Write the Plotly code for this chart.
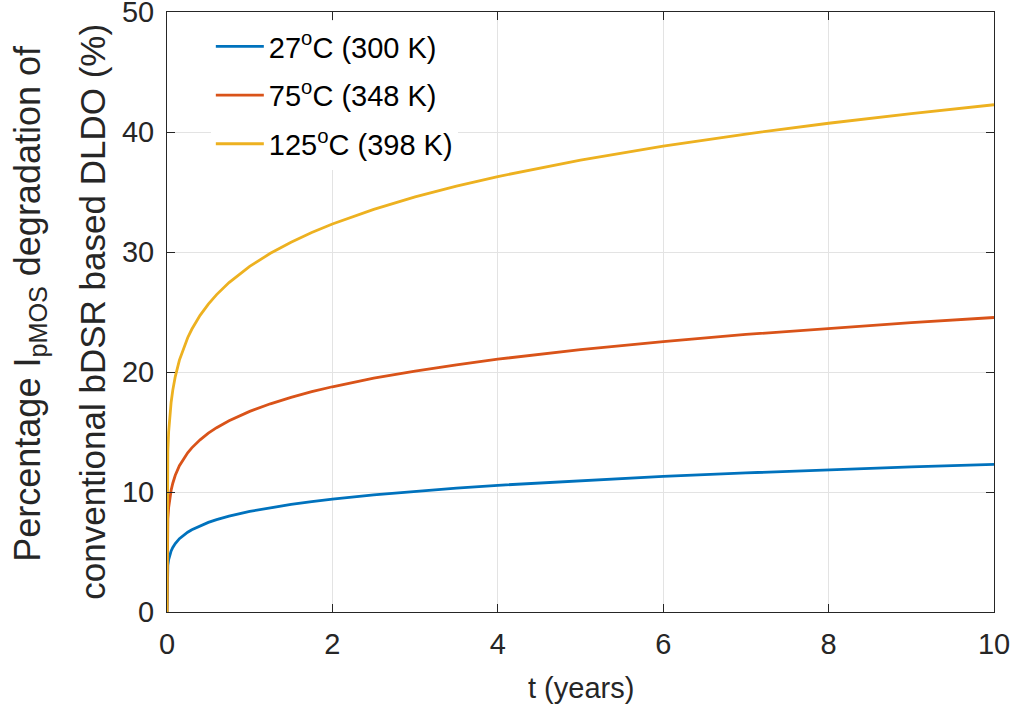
import plotly.graph_objects as go

# Time in years
t_years = [0, 0.001, 0.002, 0.005, 0.01, 0.02, 0.03, 0.05, 0.07, 0.1, 0.15, 0.2, 0.25, 0.3,
           0.4, 0.5, 0.6, 0.75, 1, 1.25, 1.5, 1.75, 2, 2.5, 3, 3.5, 4, 5, 6, 7, 8, 9, 10]

# Percentage IpMOS degradation (%)
deg_300K = [0, 2.65, 2.97, 3.47, 3.89, 4.37, 4.67, 5.09, 5.38, 5.71, 6.11, 6.41, 6.65, 6.86,
            7.19, 7.47, 7.70, 7.99, 8.38, 8.70, 8.97, 9.20, 9.41, 9.76, 10.06, 10.33, 10.56,
            10.96, 11.30, 11.59, 11.85, 12.09, 12.30]
deg_348K = [0, 5.29, 5.94, 6.91, 7.76, 8.71, 9.32, 10.15, 10.73, 11.39, 12.19, 12.79, 13.27, 13.68,
            14.35, 14.90, 15.36, 15.94, 16.72, 17.35, 17.89, 18.36, 18.77, 19.48, 20.08, 20.60, 21.07,
            21.86, 22.54, 23.13, 23.65, 24.11, 24.54]
deg_398K = [0, 9.11, 10.22, 11.91, 13.37, 15.00, 16.05, 17.48, 18.49, 19.62, 20.99, 22.02, 22.86, 23.56,
            24.72, 25.66, 26.45, 27.45, 28.80, 29.89, 30.81, 31.62, 32.33, 33.55, 34.59, 35.49, 36.29,
            37.66, 38.82, 39.83, 40.73, 41.54, 42.27]

series_names = ["27<sup>o</sup>C (300 K)", "75<sup>o</sup>C (348 K)", "125<sup>o</sup>C (398 K)"]
series_data = [deg_300K, deg_348K, deg_398K]
series_colors = ["#0072BD", "#D95319", "#EDB120"]

x_ticks = [0, 2, 4, 6, 8, 10]
y_ticks = [0, 10, 20, 30, 40, 50]

FONT = "Liberation Sans, Arial, Helvetica, sans-serif"
DARK = "#262626"

fig = go.Figure()
for i, (name, data, color) in enumerate(zip(series_names, series_data, series_colors)):
    fig.add_trace(go.Scatter(x=t_years, y=data, mode="lines", name=name,
                             legendgroup=f"g{i}",
                             line=dict(color=color, width=2.8)))

axis_common = dict(showline=True, linecolor=DARK, linewidth=1, mirror="ticks",
                   ticks="inside", ticklen=8, tickwidth=1, tickcolor=DARK,
                   showgrid=True, gridcolor="#e3e3e3", gridwidth=1, zeroline=False,
                   automargin=False,
                   ticklabelstandoff=6, ticklabeloverflow="allow",
                   tickfont=dict(family=FONT, size=29, color=DARK))

fig.update_layout(
    width=1016, height=715,
    margin=dict(l=167, r=22, t=12, b=103, autoexpand=False),
    paper_bgcolor="white", plot_bgcolor="white",
    font=dict(family=FONT, color=DARK),
    xaxis=dict(range=[0, 10], tickvals=x_ticks, **axis_common),
    yaxis=dict(range=[0, 50], tickvals=y_ticks, **axis_common),
    legend=dict(x=0.053, y=0.985, xanchor="left", yanchor="top",
                bgcolor="white", borderwidth=0, tracegroupgap=8,
                font=dict(family=FONT, size=29, color="#000000"),
                itemwidth=48),
    showlegend=True,
)

fig.add_annotation(text="t (years)", xref="paper", yref="paper", x=0.5, y=-0.126,
                   xanchor="center", yanchor="middle", showarrow=False,
                   font=dict(family=FONT, size=29, color=DARK))
fig.add_annotation(text="Percentage I<sub>pMOS</sub> degradation of",
                   xref="paper", yref="paper", x=-0.166, y=0.515,
                   xanchor="center", yanchor="middle", textangle=-90, showarrow=False,
                   font=dict(family=FONT, size=36, color=DARK))
fig.add_annotation(text="conventional bDSR based DLDO (%)",
                   xref="paper", yref="paper", x=-0.091, y=0.5,
                   xanchor="center", yanchor="middle", textangle=-90, showarrow=False,
                   font=dict(family=FONT, size=35, color=DARK))

fig.write_html("out.html", config={"displayModeBar": False},
               post_script="document.body.style.margin='0';")
